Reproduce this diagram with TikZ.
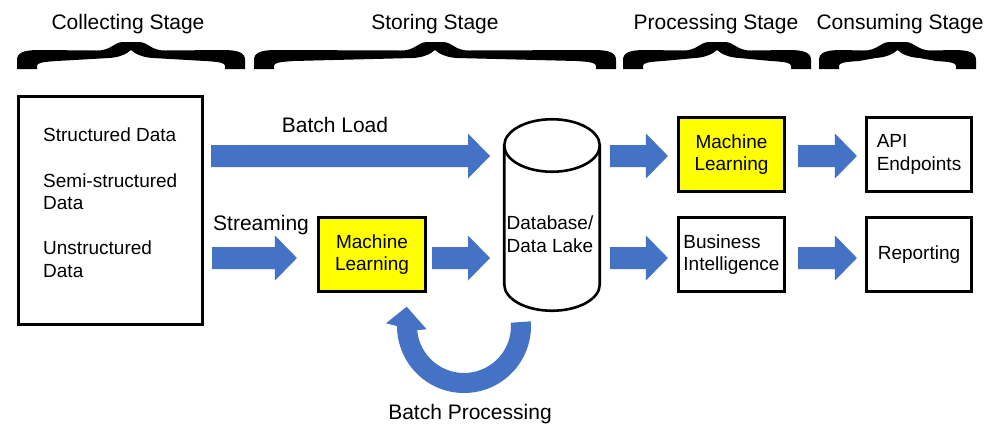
\documentclass[tikz,border=0pt]{standalone}
\usepackage{fontspec}
\setmainfont{Liberation Sans}
\usetikzlibrary{calc}
\definecolor{arrblue}{HTML}{4472C4}
\definecolor{mlyellow}{HTML}{FFFF00}

% thick calligraphic brace between x=#1 and x=#2 (pixel units)
\newcommand\stagebrace[2]{%
  \pgfmathsetmacro\ba{#1}\pgfmathsetmacro\bb{#2}\pgfmathsetmacro\bm{(#1+#2)/2}%
  \fill[black] (\ba,69) -- (\ba,60)
    .. controls (\ba,53) and (\ba+6,50) .. (\ba+22,50)
    -- (\bm-35,50.5)
    .. controls (\bm-20,51) and (\bm-17,42) .. (\bm-8,42)
    -- (\bm+8,42)
    .. controls (\bm+17,42) and (\bm+20,51) .. (\bm+35,50.5)
    -- (\bb-22,50)
    .. controls (\bb-6,50) and (\bb,53) .. (\bb,60)
    -- (\bb,69) -- (\bb-20,69) -- (\bb-20,66)
    .. controls (\bb-20,63) and (\bb-24,62) .. (\bb-40,61)
    -- (\bm+22,58)
    .. controls (\bm+12,57.5) and (\bm+4,54) .. (\bm,50)
    .. controls (\bm-4,54) and (\bm-12,57.5) .. (\bm-22,58)
    -- (\ba+40,61)
    .. controls (\ba+24,62) and (\ba+20,63) .. (\ba+20,66)
    -- (\ba+20,69) -- cycle;}

% block arrow from coordinate #1 to coordinate #2 (same row)
\newcommand\blockarrow[2]{%
  \fill[arrblue] let \p1=#1, \p2=#2 in
    (\x1,\y1+11pt) -- (\x2-22pt,\y1+11pt) -- (\x2-22pt,\y1+22.5pt) -- (\x2,\y1)
    -- (\x2-22pt,\y1-22.5pt) -- (\x2-22pt,\y1-11pt) -- (\x1,\y1-11pt) -- cycle;}

\begin{document}
\begin{tikzpicture}[x=1pt,y=-1pt,
  lbl/.style={font=\fontsize{21}{25}\selectfont, inner sep=0pt},
  txt/.style={font=\fontsize{19}{22.5}\selectfont, inner sep=0pt},
  box/.style={draw, line width=2.6pt, inner sep=0pt, minimum width=106.5pt,
              minimum height=74.5pt, align=center, font=\fontsize{19}{22.5}\selectfont},
  mlbox/.style={box, fill=mlyellow}]
\fill[white] (0,0) rectangle (995,426);
\useasboundingbox (0,0) rectangle (995,426);

% stage headings and braces
\node[lbl, anchor=base] (hcol) at (128,29) {Collecting Stage};
\node[lbl, anchor=base] (hsto) at (435,29) {Storing Stage};
\node[lbl, anchor=base] (hpro) at (716,29) {Processing Stage};
\node[lbl, anchor=base] (hcon) at (900,29) {Consuming Stage};
\stagebrace{17}{245}
\stagebrace{254}{616}
\stagebrace{623}{811}
\stagebrace{819}{976}

% rows
\coordinate (rowA) at (0,156);
\coordinate (rowB) at (0,258);

% source box
\node[draw, line width=2.6pt, minimum width=184.5pt, minimum height=228.5pt, inner sep=0pt] (lb) at (110.5,210.5) {};
\node[txt, anchor=base west] (t1) at (43,141) {Structured Data};
\node[txt, anchor=base west] (t2) at (43,187) {Semi-structured};
\node[txt, anchor=base west] (t3) at (43,209) {Data};
\node[txt, anchor=base west] (t4) at (43,254) {Unstructured};
\node[txt, anchor=base west] (t5) at (43,277) {Data};

% boxes
\node[mlbox, minimum width=107.5pt] (ml1) at (372,254.5) {Machine\\Learning};
\node[mlbox] (ml2) at (731.5,154.5) {Machine\\Learning};
\node[box, align=left] (bi) at (731.5,254.5) {Business\\Intelligence};
\node[box, align=left, minimum width=105.5pt] (api) at (919,154.5) {API\\Endpoints};
\node[box, minimum width=105.5pt] (rep) at (919,254.5) {Reporting};

% database cylinder
\node[minimum width=98pt, minimum height=194pt, inner sep=0pt, outer sep=0pt] (db) at (552,215) {};
\draw[line width=2.6pt, fill=white] (504.25,145.5) -- (504.25,284.5)
  arc[start angle=180, end angle=0, x radius=47.75, y radius=26.25] -- (599.75,145.5);
\draw[line width=2.6pt] (552,145.5) ellipse [x radius=47.75, y radius=26.25];
\node[txt, anchor=base] (dbt1) at (550,229) {Database/};
\node[txt, anchor=base] (dbt2) at (550,252) {Data Lake};

% arrows
\blockarrow{($(lb.east|-rowA)+(7,0)$)}{($(db.west|-rowA)+(-13,0)$)}
\blockarrow{($(lb.east|-rowB)+(8,0)$)}{($(ml1.west|-rowB)+(-20,0)$)}
\blockarrow{($(ml1.east|-rowB)+(5,0)$)}{($(db.west|-rowB)+(-13,0)$)}
\blockarrow{($(db.east|-rowA)+(9,0)$)}{($(ml2.west|-rowA)+(-9,0)$)}
\blockarrow{($(db.east|-rowB)+(9,0)$)}{($(bi.west|-rowB)+(-9,0)$)}
\blockarrow{($(ml2.east|-rowA)+(12,0)$)}{($(api.west|-rowA)+(-8,0)$)}
\blockarrow{($(bi.east|-rowB)+(12,0)$)}{($(rep.west|-rowB)+(-8,0)$)}

\node[lbl, anchor=base] (lbatch) at (335,132) {Batch Load};
\node[lbl, anchor=base west] (lstream) at (213,230) {Streaming};

% batch processing U-turn arrow
\coordinate (bpc) at (464,326);
\fill[arrblue] ($(bpc)+(-4:67)$) arc[start angle=-4, end angle=180, radius=67]
  -- (386,323.3) -- (406.7,306.7) -- (426.7,329.3)
  -- ($(bpc)+(175:47)$) arc[start angle=175, end angle=-4, radius=47] -- cycle;
\node[lbl, anchor=base] (lbp) at (470,419) {Batch Processing};
\end{tikzpicture}
\end{document}
